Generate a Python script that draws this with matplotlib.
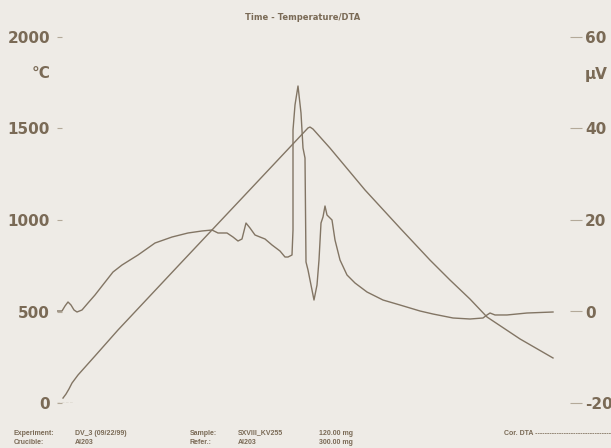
import matplotlib
matplotlib.use("Agg")
import matplotlib.pyplot as plt

plt.rcParams["axes.unicode_minus"] = False

# --- measurement data -------------------------------------------------------
# temperature programme (time in min, temperature in degC)
temp_time = [3, 4.5, 6, 7.5, 10.5, 19, 30.5, 61.5, 94, 125.5, 126.5, 128,
             136.5, 154, 171.5, 186.5, 196.5, 206.5, 215, 231.5, 248]
temp_degc = [27, 49, 77, 109, 153, 257, 399, 760, 1137, 1503, 1508, 1497,
             1393, 1164, 956, 781, 672, 568, 470, 350, 246]

# corrected DTA signal (time in min, signal in microvolt)
dta_time = [0, 2.5, 4, 5.5, 7, 8.5, 10, 12.5, 15.5, 19, 22.5, 28, 32.5, 36.5,
            40.5, 49, 57.5, 65.5, 72.5, 77.5, 80.5, 85, 88, 90.5, 92.5, 94.5,
            96.5, 99, 101.5, 104, 107.5, 111.5, 114, 115.5, 117.5, 118, 118,
            119, 120.5, 122, 123, 124, 124.5, 125.5, 127, 128.5, 130, 131,
            132, 133, 134, 135, 137.5, 139, 141.5, 145, 149, 155, 163, 171.5,
            181.5, 188, 198, 206.5, 213, 215, 216.5, 219, 225, 235, 248]
dta_uv = [0.11, 0.11, 1.20, 2.08, 1.42, 0.33, -0.11, 0.33, 1.86, 3.61, 5.57,
          8.63, 10.16, 11.26, 12.35, 14.97, 16.28, 17.16, 17.60, 17.81, 17.16,
          17.16, 16.28, 15.41, 15.85, 19.34, 18.25, 16.72, 16.28, 15.85, 14.54,
          13.22, 11.91, 11.91, 12.35, 17.81, 39.67, 45.14, 49.29, 43.39, 35.74,
          33.55, 10.82, 9.07, 5.79, 2.51, 5.79, 11.26, 19.34, 20.66, 23.06,
          21.09, 20.00, 15.63, 11.26, 7.98, 6.23, 4.26, 2.51, 1.42, 0.11,
          -0.55, -1.42, -1.64, -1.42, -0.76, -0.33, -0.76, -0.76, -0.33, -0.11]

temp_ticks = [0, 500, 1000, 1500, 2000]
dta_ticks = [-20, 0, 20, 40, 60]
baseline_span = [0, 8]

title = "Time - Temperature/DTA"
info_rows = [
    ["Experiment:", "DV_3 (09/22/99)", "Sample:", "SXVIII_KV255", "120.00 mg"],
    ["Crucible:", "Al203", "Refer.:", "Al203", "300.00 mg"],
]
legend_label = "Cor. DTA " + "-" * 36

# --- styling ----------------------------------------------------------------
BG = "#EEEBE6"
INK = "#7A6A56"
LINE = "#827564"
TICK = "#B3A999"

W, H = 611, 448
fig = plt.figure(figsize=(W / 100, H / 100), dpi=100, facecolor=BG)

left_px, right_px, top_px, bottom_px = 57, 582, 37, 403
ax = fig.add_axes([left_px / W, 1 - bottom_px / H,
                   (right_px - left_px) / W, (bottom_px - top_px) / H])
ax.set_facecolor(BG)
for s in ax.spines.values():
    s.set_visible(False)

ax.plot(temp_time, temp_degc, color=LINE, lw=1.0)
ax.plot(baseline_span, [0, 0], color=TICK, lw=1.0, ls=(0, (2, 1)))
ax.set_xlim(0, (right_px - left_px) / 2)
ax.set_ylim(0, 2000)
ax.set_xticks([])
ax.set_yticks(temp_ticks)
ax.tick_params(axis="y", direction="in", length=3.6, width=0.8, color=TICK,
               pad=5, labelsize=11, labelcolor=INK)
for lab in ax.get_yticklabels():
    lab.set_fontweight("bold")

ax2 = ax.twinx()
for s in ax2.spines.values():
    s.set_visible(False)
ax2.plot(dta_time, dta_uv, color=LINE, lw=1.0)
ax2.set_ylim(-20, 60)
ax2.set_yticks(dta_ticks)
ax2.tick_params(axis="y", direction="in", length=8.6, width=0.8, color=TICK,
                pad=2.2, labelsize=11, labelcolor=INK)
for lab in ax2.get_yticklabels():
    lab.set_fontweight("bold")

# unit labels
fig.text(41 / W, 1 - 74 / H, "°C", ha="center", va="center", fontsize=11,
         fontweight="bold", color=INK)
fig.text(596 / W, 1 - 75 / H, "µV", ha="center", va="center", fontsize=11,
         fontweight="bold", color=INK)

fig.text(303 / W, 1 - 17 / H, title, ha="center", va="center", fontsize=6.0,
         fontweight="bold", color=INK)

# measurement info block
col_x = [13.5, 75, 190, 238, 319]
row_y = [433, 442]
for y, row in zip(row_y, info_rows):
    for x, s in zip(col_x, row):
        fig.text(x / W, 1 - y / H, s, ha="left", va="center", fontsize=5.0,
                 fontweight="bold", color=INK, family="Liberation Sans")
fig.text(504 / W, 1 - 433 / H, legend_label, ha="left", va="center",
         fontsize=5.0, fontweight="bold", color=INK, family="Liberation Sans")

fig.savefig("out.png", dpi=100, facecolor=BG)
